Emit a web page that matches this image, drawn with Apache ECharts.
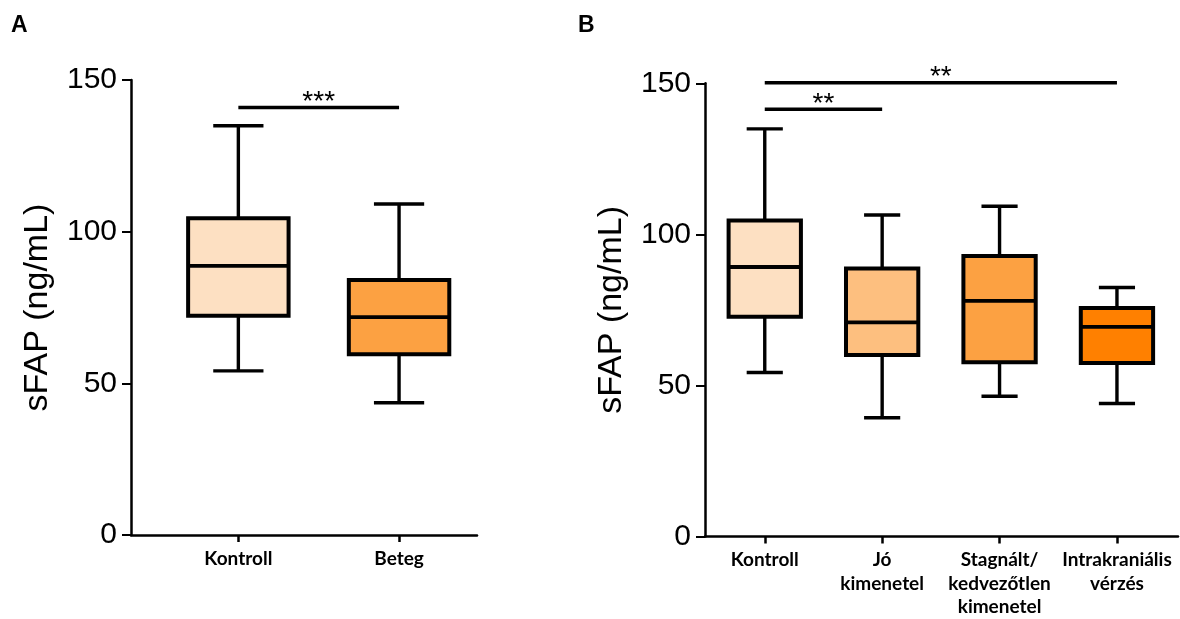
<!DOCTYPE html>
<html>
<head>
<meta charset="utf-8">
<script src="https://cdn.jsdelivr.net/npm/echarts@6/dist/echarts.min.js"></script>
<style>
    html, body { margin: 0; padding: 0; background: #fff; }
    #chart { width: 1180px; height: 619px; }
</style>
</head>
<body>
<div id="chart"></div>
<script>
// A panel: Kontroll vs Beteg
var groupsA = ["Kontroll", "Beteg"];
var minA = [54.1, 43.6];
var q1A = [72.3, 59.6];
var medA = [88.7, 71.8];
var q3A = [104.4, 84.1];
var maxA = [134.9, 109.1];
var sigFromA = [1];
var sigToA = [2];
var sigLevelA = [140.9];
var sigTextA = ["***"];

// B panel: subgroups
var groupsB = ["Kontroll", "Jó\nkimenetel", "Stagnált/\nkedvezőtlen\nkimenetel", "Intrakraniális\nvérzés"];
var minB = [54.3, 39.3, 46.4, 44.0];
var q1B = [72.7, 60.1, 57.7, 57.4];
var medB = [89.2, 70.9, 78.0, 69.4];
var q3B = [104.6, 88.7, 92.8, 75.6];
var maxB = [134.9, 106.4, 109.3, 82.4];
var sigFromB = [1, 1];
var sigToB = [2, 4];
var sigLevelB = [141.4, 150.2];
var sigTextB = ["**", "**"];

var yMin = 0;
var yMax = 150;
var yStep = 50;

var colorsA = ["#fde0c2", "#fca142"];
var colorsB = ["#fde0c2", "#fdbf7f", "#fca142", "#ff8000"];

function boxData(mins, q1s, meds, q3s, maxs) {
    var out = [];
    for (var i = 0; i < mins.length; i++) {
        out.push([i + 1, mins[i], q1s[i], meds[i], q3s[i], maxs[i]]);
    }
    return out;
}
function sigData(from, to, level) {
    var out = [];
    for (var i = 0; i < from.length; i++) {
        out.push([from[i], to[i], level[i]]);
    }
    return out;
}

function renderBox(colors) {
    return function (params, api) {
        var x = api.value(0);
        var lo = api.coord([x, api.value(1)]);
        var b1 = api.coord([x, api.value(2)]);
        var md = api.coord([x, api.value(3)]);
        var b3 = api.coord([x, api.value(4)]);
        var hi = api.coord([x, api.value(5)]);
        var w = api.size([0.65, 0])[0] - 4;
        var cw = w / 2;
        var line = { stroke: "#000", lineWidth: 3.4 };
        return {
            type: "group",
            children: [
                { type: "line", shape: { x1: lo[0], y1: lo[1], x2: b1[0], y2: b1[1] }, style: line },
                { type: "line", shape: { x1: hi[0], y1: hi[1], x2: b3[0], y2: b3[1] }, style: line },
                { type: "line", shape: { x1: lo[0] - cw / 2, y1: lo[1], x2: lo[0] + cw / 2, y2: lo[1] }, style: line },
                { type: "line", shape: { x1: hi[0] - cw / 2, y1: hi[1], x2: hi[0] + cw / 2, y2: hi[1] }, style: line },
                {
                    type: "rect",
                    shape: { x: b3[0] - w / 2, y: b3[1], width: w, height: b1[1] - b3[1] },
                    style: { fill: colors[params.dataIndex], stroke: "#000", lineWidth: 4 }
                },
                { type: "line", shape: { x1: md[0] - w / 2, y1: md[1], x2: md[0] + w / 2, y2: md[1] }, style: { stroke: "#000", lineWidth: 3.8 } }
            ]
        };
    };
}

function renderSig(texts) {
    return function (params, api) {
        var p1 = api.coord([api.value(0), api.value(2)]);
        var p2 = api.coord([api.value(1), api.value(2)]);
        return {
            type: "group",
            children: [
                { type: "line", shape: { x1: p1[0], y1: p1[1], x2: p2[0], y2: p2[1] }, style: { stroke: "#000", lineWidth: 3.5 } },
                {
                    type: "text",
                    x: (p1[0] + p2[0]) / 2,
                    y: p1[1] - 5,
                    style: {
                        text: texts[params.dataIndex],
                        fontFamily: "Liberation Sans",
                        fontSize: 28,
                        fill: "#000",
                        align: "center",
                        verticalAlign: "middle"
                    }
                }
            ]
        };
    };
}

function makeX(gridIndex, groups, min, max) {
    var ticks = groups.map(function (g, i) { return i + 1; });
    return {
        gridIndex: gridIndex,
        type: "value",
        min: min,
        max: max,
        splitLine: { show: false },
        axisLine: { show: true, onZero: false, lineStyle: { color: "#000", width: 2.5 } },
        axisTick: { show: true, customValues: ticks, length: 7, lineStyle: { color: "#000", width: 2.5 } },
        axisLabel: {
            customValues: ticks,
            margin: 12,
            formatter: function (v) { return groups[Math.round(v) - 1]; },
            fontFamily: "Lato",
            fontWeight: "bold",
            fontSize: 19,
            lineHeight: 23.5,
            color: "#000"
        }
    };
}

function makeY(gridIndex) {
    return {
        gridIndex: gridIndex,
        type: "value",
        min: yMin,
        max: yMax,
        interval: yStep,
        name: "sFAP (ng/mL)",
        nameLocation: "middle",
        nameGap: 76,
        nameTextStyle: { fontFamily: "Liberation Sans", fontSize: 34, color: "#000" },
        splitLine: { show: false },
        axisLine: { show: true, lineStyle: { color: "#000", width: 2.5 } },
        axisTick: { show: true, length: 9, lineStyle: { color: "#000", width: 2 } },
        axisLabel: { margin: 14, fontFamily: "Liberation Sans", fontSize: 30, color: "#000" }
    };
}

var myChart = echarts.init(document.getElementById("chart"));
var option = {
    backgroundColor: "#fff",
    animation: false,
    graphic: [
        { type: "text", left: 11, top: 14, style: { text: "A", fontFamily: "Liberation Sans", fontWeight: "bold", fontSize: 23, fill: "#000" } },
        { type: "text", left: 578, top: 14, style: { text: "B", fontFamily: "Liberation Sans", fontWeight: "bold", fontSize: 23, fill: "#000" } }
    ],
    grid: [
        { left: 131, top: 80, width: 346, height: 455 },
        { left: 705, top: 83.3, width: 473, height: 454.5 }
    ],
    xAxis: [
        makeX(0, groupsA, 0.332, 2.485),
        makeX(1, groupsB, 0.491, 4.52)
    ],
    yAxis: [makeY(0), makeY(1)],
    series: [
        {
            type: "custom",
            xAxisIndex: 0,
            yAxisIndex: 0,
            renderItem: renderBox(colorsA),
            encode: { x: 0, y: [1, 2, 3, 4, 5] },
            data: boxData(minA, q1A, medA, q3A, maxA)
        },
        {
            type: "custom",
            xAxisIndex: 0,
            yAxisIndex: 0,
            renderItem: renderSig(sigTextA),
            encode: { x: [0, 1], y: 2 },
            data: sigData(sigFromA, sigToA, sigLevelA)
        },
        {
            type: "custom",
            xAxisIndex: 1,
            yAxisIndex: 1,
            renderItem: renderBox(colorsB),
            encode: { x: 0, y: [1, 2, 3, 4, 5] },
            data: boxData(minB, q1B, medB, q3B, maxB)
        },
        {
            type: "custom",
            xAxisIndex: 1,
            yAxisIndex: 1,
            renderItem: renderSig(sigTextB),
            encode: { x: [0, 1], y: 2 },
            data: sigData(sigFromB, sigToB, sigLevelB)
        }
    ]
};
myChart.setOption(option);
</script>
</body>
</html>
